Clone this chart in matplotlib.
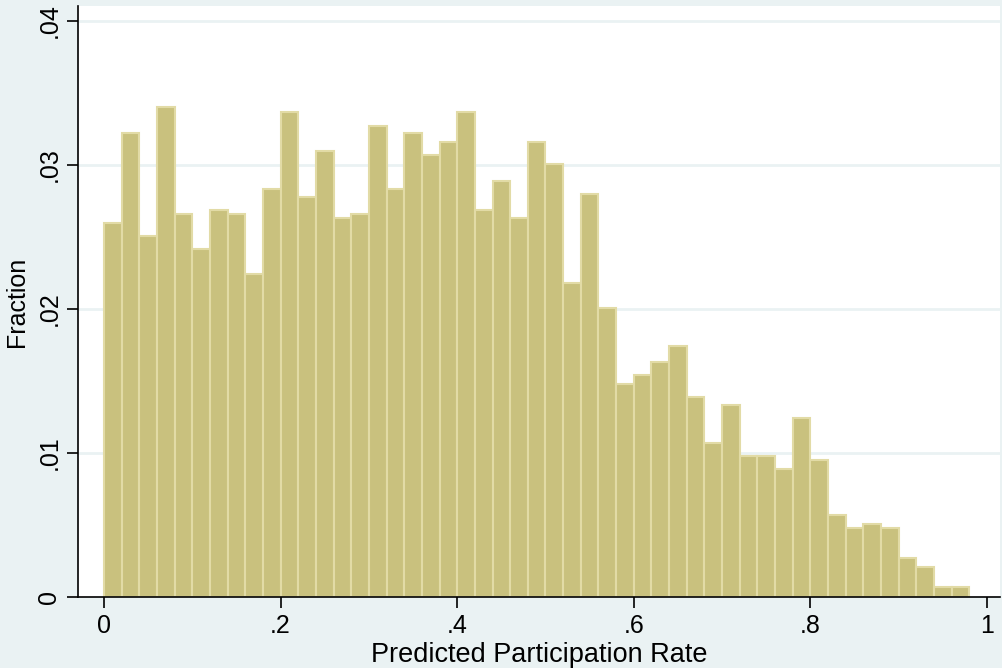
import numpy as np
import matplotlib
matplotlib.use('Agg')
import matplotlib.pyplot as plt

# bin left edges (width .02) and fraction per bin
bin_width = 0.02
bin_left = np.arange(0, 0.98, bin_width)
fraction = [0.0260, 0.0322, 0.0251, 0.0340, 0.0266, 0.0242, 0.0269, 0.0266, 0.0224, 0.0283,
            0.0337, 0.0278, 0.0310, 0.0263, 0.0266, 0.0327, 0.0283, 0.0322, 0.0307, 0.0316,
            0.0337, 0.0269, 0.0289, 0.0263, 0.0316, 0.0301, 0.0218, 0.0280, 0.0201, 0.0148,
            0.0154, 0.0163, 0.0174, 0.0139, 0.0107, 0.0133, 0.0098, 0.0098, 0.0089, 0.0124,
            0.0095, 0.0057, 0.0048, 0.0051, 0.0048, 0.0027, 0.0021, 0.0007, 0.0007]

x_ticks = [0, 0.2, 0.4, 0.6, 0.8, 1.0]
x_ticklabels = ['0', '.2', '.4', '.6', '.8', '1']
y_ticks = [0, 0.01, 0.02, 0.03, 0.04]
y_ticklabels = ['0', '.01', '.02', '.03', '.04']

bg = '#EAF2F3'
plt.rcParams['font.family'] = ['Liberation Sans', 'DejaVu Sans']

fig = plt.figure(figsize=(10.02, 6.68), dpi=100, facecolor=bg)
ax = fig.add_axes([78/1002, 71/668, 922/1002, 591/668])
ax.set_facecolor('white')

for yt in y_ticks[1:]:
	ax.axhline(yt, color=bg, linewidth=2, zorder=1)

ax.bar(bin_left, fraction, width=bin_width, align='edge', color='#C9C17E',
	edgecolor='#E2DBA6', linewidth=1.5, zorder=2)

ax.set_xlim(-0.0294, 1.0147)
ax.set_ylim(0, 0.04104)

for s in ['top', 'right']:
	ax.spines[s].set_visible(False)
for s in ['left', 'bottom']:
	ax.spines[s].set_color('black')
	ax.spines[s].set_linewidth(1.2)

ax.set_xticks(x_ticks)
ax.set_xticklabels(x_ticklabels)
ax.set_yticks(y_ticks)
ax.set_yticklabels(y_ticklabels, rotation=90, va='center')
ax.tick_params(axis='both', direction='out', length=8, width=1.2, labelsize=18, pad=4)

ax.set_xlabel('Predicted Participation Rate', fontsize=19.5, labelpad=3)
ax.set_ylabel('Fraction', fontsize=18, labelpad=6)

fig.savefig('out.png', dpi=100, facecolor=bg)
